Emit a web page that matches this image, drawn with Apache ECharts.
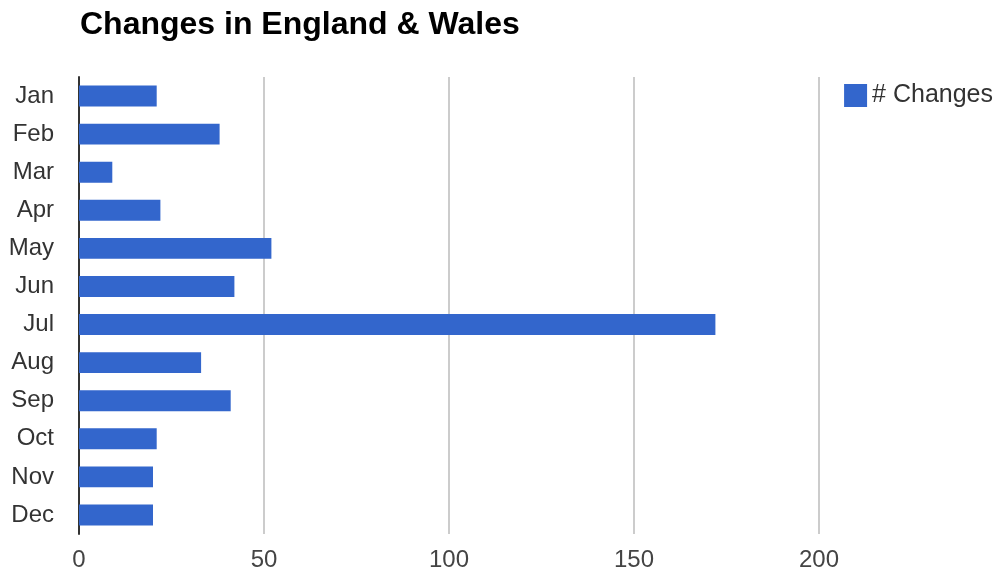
<!DOCTYPE html>
<html><head><meta charset="utf-8">
<script src="https://cdn.jsdelivr.net/npm/echarts@6/dist/echarts.min.js"></script>
<style>html,body{margin:0;padding:0;background:#fff}#c{width:1003px;height:574px}</style>
</head><body><div id="c"></div>
<script>
const title = 'Changes in England & Wales';
const seriesName = '# Changes';
const months = ['Jan','Feb','Mar','Apr','May','Jun','Jul','Aug','Sep','Oct','Nov','Dec'];
const changes = [21,38,9,22,52,42,172,33,41,21,20,20];
const xTicks = [0,50,100,150,200];

const chart = echarts.init(document.getElementById('c'));
const font = 'Liberation Sans, Arial, sans-serif';
chart.setOption({
  animation:false,
  title:{text:title,left:75,top:4,textStyle:{fontFamily:font,fontSize:32,fontWeight:'bold',color:'#000'}},
  legend:{right:5,top:78,itemWidth:23,itemHeight:23,itemGap:10,orient:'vertical',
    textStyle:{fontFamily:font,fontSize:25,color:'#333'},icon:'rect'},
  grid:{left:79,right:184,top:77,bottom:40,containLabel:false},
  xAxis:{type:'value',min:xTicks[0],max:xTicks[xTicks.length-1],interval:50,
    axisLine:{show:false},axisTick:{show:false},
    splitLine:{lineStyle:{color:'#cccccc',width:2}},
    axisLabel:{fontFamily:font,fontSize:24,color:'#444',margin:14}},
  yAxis:{type:'category',data:months,inverse:true,
    axisLine:{show:true,lineStyle:{color:'#333',width:2}},axisTick:{show:false},
    axisLabel:{fontFamily:font,fontSize:24,color:'#333',margin:25}},
  series:[{name:seriesName,type:'bar',data:changes,barCategoryGap:'45%',
    itemStyle:{color:'#3366cc'}}]
});
</script></body></html>
